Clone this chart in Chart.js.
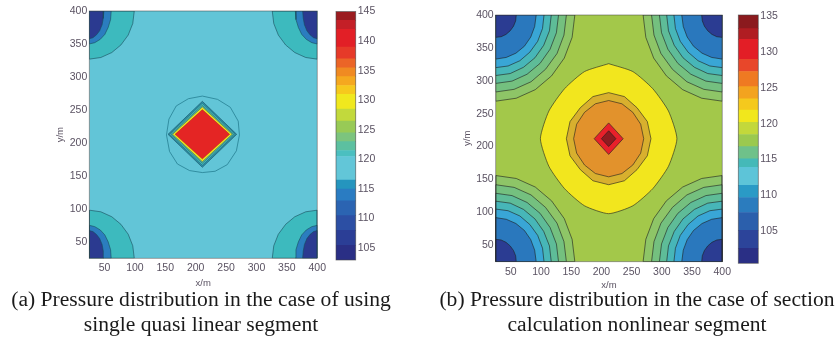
<!DOCTYPE html>
<html>
<head>
<meta charset="utf-8">
<script src="https://cdn.jsdelivr.net/npm/chart.js@4.4.1/dist/chart.umd.min.js"></script>
<style>
  html, body { margin: 0; padding: 0; background: #fff; }
  body { width: 838px; height: 345px; position: relative; overflow: hidden; }
  canvas { position: absolute; top: 0; }
  .cap { position: absolute; top: 287px; font-family: "Liberation Serif", "Times New Roman", serif;
         font-size: 21.6px; line-height: 25px; color: #1a1a1a; text-align: center; white-space: nowrap; }
</style>
</head>
<body>
<canvas id="plotA" width="290" height="295" style="left:40px"></canvas>
<canvas id="barA" width="50" height="290" style="left:330px"></canvas>
<canvas id="plotB" width="285" height="295" style="left:450px"></canvas>
<canvas id="barB" width="50" height="290" style="left:735px"></canvas>
<div class="cap" style="left:1px;width:400px">(a) Pressure distribution in the case of using<br>single quasi linear segment</div>
<div class="cap" style="left:437px;width:400px">(b) Pressure distribution in the case of section<br>calculation nonlinear segment</div>
<script>
// axes
const xTicks = [50, 100, 150, 200, 250, 300, 350, 400];
const yTicks = [50, 100, 150, 200, 250, 300, 350, 400];
const xRange = [25, 400];
const yRange = [25, 400];
const corners = [[25, 400], [400, 400], [25, 25], [400, 25]];
const square = [[25, 25], [400, 25], [400, 400], [25, 400]];

// colour bars: level edges (bottom -> top) and band colours
const barTicksA = [105, 110, 115, 120, 125, 130, 135, 140, 145];
const levelsA = [103, 105.5, 108, 110.5, 113, 115, 116.5, 120.5, 121.5, 123, 124.5, 126.5, 128.5, 131, 132.5, 134, 135.5, 137, 139, 142, 143.5, 145];
const coloursA = ['#2a2f85', '#2b3e96', '#2c4fa4', '#2b64b2', '#2a7cc2', '#2595be', '#62c6d8', '#4bbfc0', '#5cc0a0', '#7cc47e',
                  '#98ca56', '#c2d93c', '#f0e81e', '#f6c91d', '#f5a81f', '#f08a22', '#eb6527', '#e63a29', '#e21f26', '#c41f27', '#9b1c20'];
const barTicksB = [105, 110, 115, 120, 125, 130, 135];
const levelsB = [100.5, 102.6, 105.1, 107.6, 109.7, 111.4, 113.9, 115.1, 116.8, 118.5, 120.2, 121.9, 123.5, 125.2, 127.3, 129, 131.8, 133.3, 135.2];
const coloursB = ['#2a2f85', '#2c449a', '#2b5fac', '#2b7cbe', '#2a9ac6', '#5dc4d8', '#45b9b8', '#6fc18a', '#9bc94f', '#c3d83b',
                  '#f1e71c', '#f5c91d', '#f3a31f', '#ef7a22', '#e8472a', '#e31e26', '#b01d22', '#8b1a1e'];

// (a) corner contours: offsets from the corner [along x, along y], outer -> inner
const arcA_teal = [[74, 0], [71.5, 19], [64, 36.5], [52, 51.5], [37, 63], [19, 70.5], [0, 73]];
const arcA_blue = [[36, 0], [35, 13], [31, 25], [25.5, 35.5], [18, 43], [9, 48], [0, 50]];
const arcA_navy = [[24, 0], [23, 11], [21, 21], [17, 30], [12, 36], [6, 40.5], [0, 42]];
// (a) centre: outer ring and nested diamonds
const ringA = [[211, 271], [236, 266], [257, 254], [270, 233], [272, 212], [267, 188], [252, 167], [232, 157],
               [211, 155], [190, 158], [170, 168], [157, 187], [152, 212], [156, 236], [168, 256], [188, 267]];
const diamA_edge = [[211, 263], [267.5, 213], [211, 163], [154.5, 213]];
const diamA_teal = [[211, 260], [265, 213], [211, 166], [157, 213]];
const diamA_green = [[211, 257], [262.5, 213], [211, 169], [159.5, 213]];
const diamA_yellow = [[211, 254.5], [260, 213], [211, 171.5], [162, 213]];
const diamA_red = [[211, 250.5], [256, 213], [211, 175.5], [166, 213]];

// (b) corner contours, outer -> inner
const arcB_1 = [[131, 0], [126.5, 34], [113.5, 65.5], [92.5, 92.5], [65.5, 113.5], [34, 126.5], [0, 131]];
const arcB_2 = [[117, 0], [113, 30.5], [101.5, 58.5], [82.5, 82.5], [58.5, 101.5], [30.5, 113], [0, 117]];
const arcB_3 = [[104, 0], [100.5, 27], [90, 52], [73.5, 73.5], [52, 90], [27, 100.5], [0, 104]];
const arcB_4 = [[92, 0], [89, 24], [79.5, 46], [65, 65], [46, 79.5], [24, 89], [0, 92]];
const arcB_5 = [[80, 0], [77.5, 20.5], [69.5, 40], [56.5, 56.5], [40, 69.5], [20.5, 77.5], [0, 80]];
const arcB_6 = [[67, 0], [64.5, 17.5], [58, 33.5], [47.5, 47.5], [33.5, 58], [17.5, 64.5], [0, 67]];
const arcB_7 = [[34, 0], [33, 9], [29.5, 17], [24, 24], [17, 29.5], [9, 33], [0, 34]];
// (b) centre, outer -> inner (first point at the top so the curve joins smoothly there)
const blobB_yellow = [[212, 326], [172, 314], [139, 288], [113, 254], [99, 212], [113, 170], [139, 136], [172, 110],
                      [212, 98], [252, 110], [285, 136], [311, 170], [325, 212], [311, 254], [285, 288], [252, 314]];
const blobB_ochre = [[282, 212], [276, 238], [259, 259], [238, 276], [212, 282], [186, 276], [165, 259], [148, 238],
                     [142, 212], [148, 186], [165, 165], [186, 148], [212, 142], [238, 148], [259, 165], [276, 186]];
const blobB_orange = [[270, 212], [265, 234], [252, 252], [234, 265], [212, 270], [190, 265], [172, 252], [159, 234],
                      [154, 212], [159, 190], [172, 172], [190, 159], [212, 154], [234, 159], [252, 172], [265, 190]];
const diamB_red = [[236, 212], [212, 236], [188, 212], [212, 188]];
const diamB_dark = [[224, 212], [212, 224], [200, 212], [212, 200]];

const tickFont = { family: '"Liberation Sans", Arial, sans-serif', size: 10.5 };
const tickColour = '#5a5262';

const frame = {
  id: 'frame',
  afterDatasetsDraw(chart, args, opts) {
    const { ctx, chartArea: a } = chart;
    ctx.save();
    ctx.strokeStyle = opts.color || 'rgba(60,60,60,0.6)';
    ctx.lineWidth = opts.width || 0.8;
    ctx.strokeRect(a.left, a.top, a.right - a.left, a.bottom - a.top);
    ctx.restore();
  }
};

function cornerShape(arc, c) {
  const sx = c[0] < 200 ? 1 : -1, sy = c[1] < 200 ? 1 : -1;
  return [c].concat(arc.map(p => [c[0] + sx * p[0], c[1] + sy * p[1]]));
}

function layer(points, fillColour, lineColour, lineWidth, tension) {
  return {
    data: points.concat([points[0]]).map(p => ({ x: p[0], y: p[1] })),
    showLine: true,
    fill: fillColour ? 'shape' : false,
    backgroundColor: fillColour || 'rgba(0,0,0,0)',
    borderColor: lineColour,
    borderWidth: lineWidth,
    pointRadius: 0,
    tension: tension || 0,
    clip: 0
  };
}

function contourChart(id, layers, pad, yWidth, xHeight, yTitlePad, xTitlePad) {
  layers.forEach((l, i) => { l.order = layers.length - i; });
  return new Chart(document.getElementById(id), {
    type: 'scatter',
    data: { datasets: layers },
    options: {
      responsive: false, animation: false, events: [],
      layout: { padding: pad },
      plugins: { legend: { display: false }, tooltip: { enabled: false }, frame: {} },
      scales: {
        x: {
          type: 'linear', min: xRange[0], max: xRange[1],
          grid: { display: false, drawTicks: false }, border: { display: false },
          afterBuildTicks: s => { s.ticks = xTicks.map(v => ({ value: v })); },
          afterFit: s => { s.height = xHeight; },
          ticks: { font: tickFont, color: tickColour, padding: 4, maxRotation: 0, autoSkip: false },
          title: { display: true, text: 'x/m', font: { family: tickFont.family, size: 9.5 }, color: tickColour,
                   padding: { top: 0, bottom: xTitlePad } }
        },
        y: {
          type: 'linear', min: yRange[0], max: yRange[1],
          grid: { display: false, drawTicks: false }, border: { display: false },
          afterBuildTicks: s => { s.ticks = yTicks.map(v => ({ value: v })); },
          afterFit: s => { s.width = yWidth; },
          ticks: { font: tickFont, color: tickColour, padding: 2, autoSkip: false },
          title: { display: true, text: 'y/m', font: { family: tickFont.family, size: 9.5 }, color: tickColour,
                   padding: { top: yTitlePad, bottom: 0 } }
        }
      }
    },
    plugins: [frame]
  });
}

function colourBar(id, levels, colours, ticks, pad, yWidth) {
  const bands = colours.map((c, i) => ({
    data: [[levels[i], levels[i + 1]]], backgroundColor: c, borderWidth: 0,
    barPercentage: 1, categoryPercentage: 1, grouped: false
  }));
  return new Chart(document.getElementById(id), {
    type: 'bar',
    data: { labels: [''], datasets: bands },
    options: {
      responsive: false, animation: false, events: [],
      layout: { padding: pad },
      plugins: { legend: { display: false }, tooltip: { enabled: false }, frame: { color: 'rgba(70,70,70,0.7)' } },
      scales: {
        x: { display: false },
        y: {
          position: 'right', min: levels[0], max: levels[levels.length - 1],
          grid: { display: false, drawTicks: false }, border: { display: false },
          afterBuildTicks: s => { s.ticks = ticks.map(v => ({ value: v })); },
          afterFit: s => { s.width = yWidth; },
          ticks: { font: tickFont, color: tickColour, padding: 2, autoSkip: false }
        }
      }
    },
    plugins: [frame]
  });
}

// ---- (a)
const lineA = 'rgba(25,75,90,0.75)';
const layersA = [layer(square, '#62c5d7', lineA, 0)];
corners.forEach(c => {
  layersA.push(layer(cornerShape(arcA_teal, c), '#3dbabe', lineA, 0.8));
  layersA.push(layer(cornerShape(arcA_blue, c), '#2b7dbf', lineA, 0.8));
  layersA.push(layer(cornerShape(arcA_navy, c), '#2b3a90', lineA, 0.8));
});
layersA.push(layer(ringA, null, 'rgba(30,120,140,0.8)', 0.9));
layersA.push(layer(diamA_edge, '#2b93ad', lineA, 0.8));
layersA.push(layer(diamA_teal, '#45bcbe', lineA, 0.6));
layersA.push(layer(diamA_green, '#5db9a0', lineA, 0.6));
layersA.push(layer(diamA_yellow, '#f1e61d', lineA, 0.6));
layersA.push(layer(diamA_red, '#e42524', 'rgba(120,30,20,0.5)', 0.6));
contourChart('plotA', layersA, { left: 0, top: 11, right: 8.3, bottom: 0 }, 49.3, 36.7, 14.7, 6.3);
colourBar('barA', levelsA, coloursA, barTicksA, { left: 6, top: 11.5, right: 0, bottom: 30 }, 24.3);

// ---- (b)
const lineB = 'rgba(30,30,30,0.75)';
const layersB = [layer(square, '#a3c84a', lineB, 0)];
const arcColoursB = ['#8ec567', '#74c07f', '#5ebc98', '#47b6b8', '#39a6d6', '#2a78bd', '#2b3c92'];
corners.forEach(c => {
  [arcB_1, arcB_2, arcB_3, arcB_4, arcB_5, arcB_6, arcB_7].forEach((arc, k) => {
    layersB.push(layer(cornerShape(arc, c), arcColoursB[k], lineB, 0.8));
  });
});
layersB.push(layer(blobB_yellow, '#f2e61e', lineB, 0.8, 0.2));
layersB.push(layer(blobB_ochre, '#d8b02e', lineB, 0.8));
layersB.push(layer(blobB_orange, '#e2922c', lineB, 0.8));
layersB.push(layer(diamB_red, '#e8202a', lineB, 0.8));
layersB.push(layer(diamB_dark, '#8f1b20', lineB, 0.8));
contourChart('plotB', layersB, { left: 0, top: 15, right: 8.3, bottom: 0 }, 45.7, 33.3, 12, 4.3);
colourBar('barB', levelsB, coloursB, barTicksB, { left: 3.3, top: 15, right: 0, bottom: 26.7 }, 26.7);
</script>
</body>
</html>
